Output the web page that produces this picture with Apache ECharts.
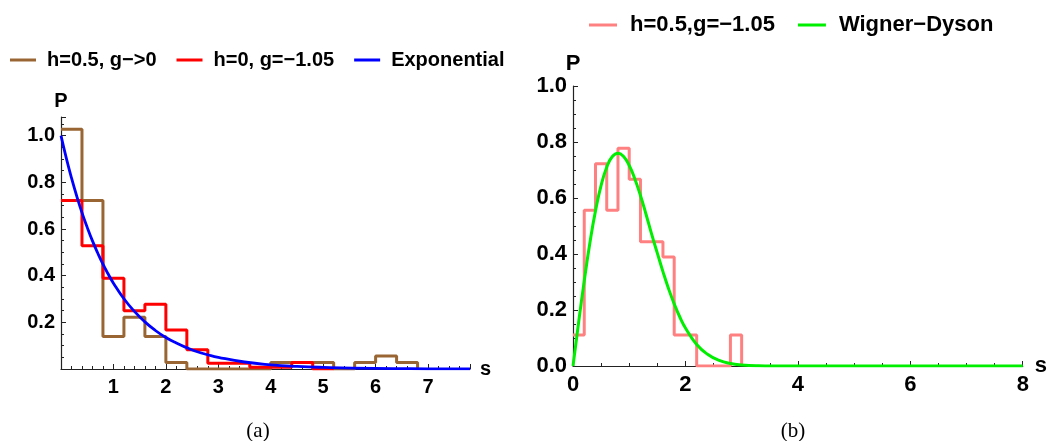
<!DOCTYPE html>
<html>
<head>
<meta charset="utf-8">
<script src="https://cdn.jsdelivr.net/npm/echarts@6/dist/echarts.min.js"></script>
<style>
html,body{margin:0;padding:0;background:#fff;}
#c{width:1050px;height:441px;}
</style>
</head>
<body>
<div id="c"></div>
<script>
// ---- data ----
// panel (a): histograms with bin width 0.4 starting at s=0
const binWidthA = 0.4;
const brownVals = [1.028, 0.722, 0.139, 0.222, 0.139, 0.028, 0, 0, 0, 0, 0.028, 0.028, 0.028, 0, 0.028, 0.056, 0.028];
const redVals   = [0.722, 0.528, 0.389, 0.25, 0.278, 0.167, 0.083, 0.025, 0.025, 0.008, 0.008, 0.028, 0];
// exponential curve samples
const expS = [0, 0.1, 0.2, 0.3, 0.4, 0.5, 0.6, 0.7, 0.8, 0.9, 1.0, 1.2, 1.4, 1.6, 1.8, 2.0, 2.2, 2.4, 2.6, 2.8, 3.0, 3.5, 4.0, 4.5, 5.0, 6.0, 7.0, 7.8];
const expP = [1.000, 0.905, 0.819, 0.741, 0.670, 0.607, 0.549, 0.497, 0.449, 0.407, 0.368, 0.301, 0.247, 0.202, 0.165, 0.135, 0.111, 0.091, 0.074, 0.061, 0.050, 0.030, 0.018, 0.011, 0.007, 0.0025, 0.0009, 0.0004];

// panel (b): histogram with bin width 0.2 starting at s=0
const binWidthB = 0.2;
const pinkVals = [0.111, 0.556, 0.722, 0.556, 0.778, 0.667, 0.444, 0.444, 0.389, 0.111, 0.111, 0, 0, 0, 0.111];
// Wigner-Dyson curve samples
const wdS = [0, 0.1, 0.2, 0.3, 0.4, 0.5, 0.6, 0.7, 0.8, 0.9, 1.0, 1.1, 1.2, 1.3, 1.4, 1.5, 1.6, 1.7, 1.8, 1.9, 2.0, 2.2, 2.4, 2.6, 2.8, 3.0, 3.3, 3.6, 4.0, 5.0, 6.0, 7.0, 8.0];
const wdP = [0, 0.156, 0.304, 0.439, 0.554, 0.645, 0.710, 0.748, 0.760, 0.748, 0.716, 0.668, 0.609, 0.541, 0.470, 0.403, 0.337, 0.276, 0.222, 0.175, 0.136, 0.077, 0.041, 0.020, 0.009, 0.004, 0.001, 0.0002, 0, 0, 0, 0, 0];

// series names / labels
const namesA = ['h=0.5, g\u2212>0', 'h=0, g=\u22121.05', 'Exponential'];
const namesB = ['h=0.5,g=\u22121.05', 'Wigner\u2212Dyson'];
const panelLabels = ['(a)', '(b)'];

// ---- helpers ----
function stepPoints(vals, w) {
  const pts = [];
  vals.forEach((v, i) => pts.push([+(i * w).toFixed(6), v]));
  const end = +(vals.length * w).toFixed(6);
  pts.push([end, vals[vals.length - 1]]);
  pts.push([end, 0]);
  return pts;
}
function zip(a, b) { return a.map((x, i) => [x, b[i]]); }

const FONT = '"Liberation Sans", Arial, sans-serif';
const axisCol = '#222';

function xAx(grid, max, interval, split, fs, fmt) {
  return {
    type: 'value', gridIndex: grid, min: 0, max: max, interval: interval,
    name: 's', nameLocation: 'end', nameGap: 10,
    nameTextStyle: {fontFamily: FONT, fontWeight: 'bold', fontSize: fs, color: '#000', verticalAlign: 'middle'},
    axisLine: {show: true, onZero: false, lineStyle: {color: axisCol, width: 1.2}},
    axisTick: {show: true, inside: true, length: 5, lineStyle: {color: axisCol, width: 1}},
    minorTick: {show: true, splitNumber: split, length: 3, lineStyle: {color: axisCol, width: 1}},
    splitLine: {show: false}, minorSplitLine: {show: false},
    axisLabel: {margin: 8, fontFamily: FONT, fontWeight: 'bold', fontSize: fs, color: '#000', formatter: fmt, showMaxLabel: true, showMinLabel: true}
  };
}
function yAx(grid, max, interval, split, fs, fmt, gap) {
  return {
    type: 'value', gridIndex: grid, min: 0, max: max, interval: interval,
    name: 'P', nameLocation: 'end', nameGap: gap,
    nameTextStyle: {fontFamily: FONT, fontWeight: 'bold', fontSize: fs, color: '#000', align: 'center'},
    axisLine: {show: true, onZero: false, lineStyle: {color: axisCol, width: 1.2}},
    axisTick: {show: true, inside: true, length: 5, lineStyle: {color: axisCol, width: 1}},
    minorTick: {show: true, splitNumber: split, length: 3, lineStyle: {color: axisCol, width: 1}},
    splitLine: {show: false}, minorSplitLine: {show: false},
    axisLabel: {margin: 6, fontFamily: FONT, fontWeight: 'bold', fontSize: fs, color: '#000', formatter: fmt}
  };
}
function isMult(v, step) { const r = v / step; return Math.abs(r - Math.round(r)) < 1e-6; }

const chart = echarts.init(document.getElementById('c'), null, {renderer: 'canvas'});

const option = {
  animation: false,
  backgroundColor: '#fff',
  grid: [
    {left: 61, top: 117, width: 409, height: 252},
    {left: 573, top: 86, width: 452, height: 280}
  ],
  xAxis: [
    xAx(0, 7.8, 1, 5, 20, v => (v > 0 && isMult(v, 1)) ? String(v) : ''),
    xAx(1, 8, 2, 4, 22, v => isMult(v, 2) ? String(v) : '')
  ],
  yAxis: [
    yAx(0, 1.08, 0.2, 4, 20, v => (v > 0 && isMult(v, 0.2)) ? v.toFixed(1) : '', 6),
    yAx(1, 1.0, 0.2, 4, 22, v => isMult(v, 0.2) ? v.toFixed(1) : '', 6)
  ],
  legend: [
    {
      data: namesA, left: 5, top: 45, orient: 'horizontal', icon: 'rect',
      itemWidth: 26, itemHeight: 3, itemGap: 20,
      textStyle: {fontFamily: FONT, fontWeight: 'bold', fontSize: 20, color: '#000', padding: [0, 0, 0, 6]}
    },
    {
      data: namesB, left: 584, top: 9, orient: 'horizontal', icon: 'rect',
      itemWidth: 28, itemHeight: 3, itemGap: 23,
      textStyle: {fontFamily: FONT, fontWeight: 'bold', fontSize: 22, color: '#000', padding: [0, 0, 0, 8]}
    }
  ],
  series: [
    {name: namesA[0], type: 'line', xAxisIndex: 0, yAxisIndex: 0, step: 'end', symbol: 'none',
     data: stepPoints(brownVals, binWidthA), lineStyle: {color: '#996633', width: 3}, itemStyle: {color: '#996633'}, z: 2},
    {name: namesA[1], type: 'line', xAxisIndex: 0, yAxisIndex: 0, step: 'end', symbol: 'none',
     data: stepPoints(redVals, binWidthA), lineStyle: {color: '#ff0000', width: 3}, itemStyle: {color: '#ff0000'}, z: 3},
    {name: namesA[2], type: 'line', xAxisIndex: 0, yAxisIndex: 0, symbol: 'none', smooth: 0.5,
     data: zip(expS, expP), lineStyle: {color: '#0000ff', width: 2.8}, itemStyle: {color: '#0000ff'}, z: 4},
    {name: namesB[0], type: 'line', xAxisIndex: 1, yAxisIndex: 1, step: 'end', symbol: 'none',
     data: stepPoints(pinkVals, binWidthB), lineStyle: {color: '#ff8080', width: 3}, itemStyle: {color: '#ff8080'}, z: 2},
    {name: namesB[1], type: 'line', xAxisIndex: 1, yAxisIndex: 1, symbol: 'none', smooth: 0.5,
     data: zip(wdS, wdP), lineStyle: {color: '#00ee00', width: 3}, itemStyle: {color: '#00ee00'}, z: 3}
  ],
  graphic: [
    {type: 'text', x: 258, y: 431, style: {text: panelLabels[0], font: '21px "Liberation Serif", serif', fill: '#000', align: 'center', verticalAlign: 'middle', textAlign: 'center', textVerticalAlign: 'middle'}},
    {type: 'text', x: 793, y: 431, style: {text: panelLabels[1], font: '21px "Liberation Serif", serif', fill: '#000', align: 'center', verticalAlign: 'middle', textAlign: 'center', textVerticalAlign: 'middle'}}
  ]
};
chart.setOption(option);
</script>
</body>
</html>
